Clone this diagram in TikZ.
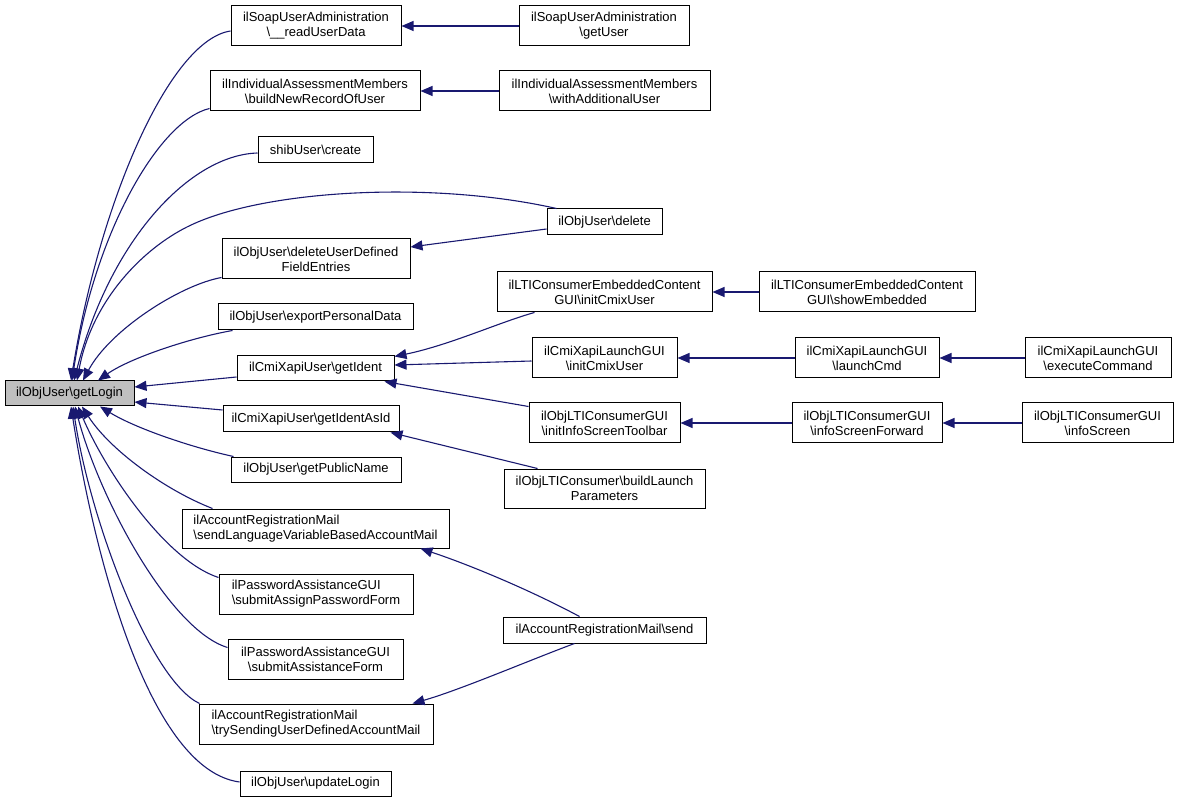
\documentclass[tikz,border=0pt]{standalone}
\usepackage{fontspec}
\setmainfont{Liberation Sans}
\usetikzlibrary{arrows.meta}
\newcommand{\BSL}{\textbackslash}
\definecolor{edgeblue}{HTML}{191970}
\begin{document}
\begin{tikzpicture}[x=1pt,y=-1pt,
  fn/.style={draw=black,line width=1pt,inner sep=0pt,align=center,
    font=\fontsize{13}{15}\selectfont},
  fnl/.style={fn,align=left},
  edge/.style={draw=edgeblue,line width=1.1pt,-{Triangle[length=12pt,width=10pt]}},
  sz/.style 2 args={minimum width=#1pt,minimum height=#2pt}]
\useasboundingbox (0,0) rectangle (1179,802);
% nodes
\node[fn,sz={129}{25},fill=black!25] (getLogin) at (69.5,393.5) {ilObjUser\BSL getLogin};
\node[fn,sz={170}{40}] (soapRead) at (316,26) {ilSoapUserAdministration\\\BSL\_\_readUserData};
\node[fn,sz={170}{40}] (soapGet) at (604,26) {ilSoapUserAdministration\\\BSL getUser};
\node[fn,sz={210}{40}] (indivBuild) at (315,91) {ilIndividualAssessmentMembers\\\BSL buildNewRecordOfUser};
\node[fn,sz={211}{40}] (indivWith) at (604.5,91) {ilIndividualAssessmentMembers\\\BSL withAdditionalUser};
\node[fn,sz={115}{26}] (shib) at (315.5,150) {shibUser\BSL create};
\node[fn,sz={115}{26}] (delete) at (604.5,222) {ilObjUser\BSL delete};
\node[fn,sz={188}{40}] (delUDF) at (316,259) {ilObjUser\BSL deleteUserDefined\\FieldEntries};
\node[fn,sz={195}{26}] (export) at (315.5,317) {ilObjUser\BSL exportPersonalData};
\node[fn,sz={157}{25}] (getIdent) at (315.5,368.5) {ilCmiXapiUser\BSL getIdent};
\node[fn,sz={176}{26}] (getIdentAsId) at (311,419) {ilCmiXapiUser\BSL getIdentAsId};
\node[fn,sz={170}{25}] (publicName) at (316,469.5) {ilObjUser\BSL getPublicName};
\node[fn,sz={215}{40}] (ltiInit) at (604.5,292) {ilLTIConsumerEmbeddedContent\\GUI\BSL initCmixUser};
\node[fn,sz={145}{40}] (cmiInit) at (604.5,358) {ilCmiXapiLaunchGUI\\\BSL initCmixUser};
\node[fn,sz={151}{40}] (infoToolbar) at (604.5,423) {ilObjLTIConsumerGUI\\\BSL initInfoScreenToolbar};
\node[fn,sz={201}{39}] (buildLaunch) at (604.5,488.5) {ilObjLTIConsumer\BSL buildLaunch\\Parameters};
\node[fn,sz={216}{40}] (showEmb) at (867,292) {ilLTIConsumerEmbeddedContent\\GUI\BSL showEmbedded};
\node[fn,sz={144}{40}] (launchCmd) at (867,358) {ilCmiXapiLaunchGUI\\\BSL launchCmd};
\node[fn,sz={146}{40}] (execCmd) at (1098,358) {ilCmiXapiLaunchGUI\\\BSL executeCommand};
\node[fn,sz={150}{40}] (infoFwd) at (867,423) {ilObjLTIConsumerGUI\\\BSL infoScreenForward};
\node[fn,sz={151}{40}] (infoScreen) at (1097.5,423) {ilObjLTIConsumerGUI\\\BSL infoScreen};
\node[fnl,sz={267}{39}] (sendLang) at (315.5,528.5) {ilAccountRegistrationMail\\\BSL sendLanguageVariableBasedAccountMail};
\node[fnl,sz={194}{40}] (submitAssign) at (316,594) {ilPasswordAssistanceGUI\\\BSL submitAssignPasswordForm};
\node[fn,sz={175}{40}] (submitAssist) at (315.5,659) {ilPasswordAssistanceGUI\\\BSL submitAssistanceForm};
\node[fnl,sz={234}{40}] (trySend) at (316,724) {ilAccountRegistrationMail\\\BSL trySendingUserDefinedAccountMail};
\node[fn,sz={151}{25}] (updateLogin) at (315.5,783.5) {ilObjUser\BSL updateLogin};
\node[fn,sz={203}{26}] (send) at (604.5,630) {ilAccountRegistrationMail\BSL send};
% edges into getLogin (top)
\draw[edge] ([yshift=-5pt]soapRead.west) .. controls (170,40) and (100,200) .. ([xshift=1.5pt]getLogin.north);
\draw[edge] ([yshift=3pt]indivBuild.south west) .. controls (160,120) and (95,230) .. ([xshift=2.5pt]getLogin.north);
\draw[edge] ([yshift=-3pt]shib.west) .. controls (190,155) and (110,240) .. ([xshift=4.5pt]getLogin.north);
\draw[edge] ([xshift=10pt]delete.north west) .. controls (430,180) and (260,190) .. (187,227)
   .. controls (143,249) and (92,300) .. ([xshift=7.5pt]getLogin.north);
\draw[edge] ([yshift=2pt]delUDF.south west) .. controls (180,285) and (110,330) .. ([xshift=13.5pt]getLogin.north);
\draw[edge] ([xshift=15pt]export.south west) .. controls (190,338) and (130,358) .. ([xshift=28.5pt]getLogin.north);
% edges into getLogin (right)
\draw[edge] ([yshift=-8.5pt]getIdent.west) -- ([yshift=6.5pt]getLogin.east);
\draw[edge] ([yshift=9pt]getIdentAsId.west) -- ([yshift=-8.5pt]getLogin.east);
% edges into getLogin (bottom)
\draw[edge] ([xshift=3pt]publicName.north west) .. controls (190,447) and (135,428) .. ([xshift=30.5pt]getLogin.south);
\draw[edge] ([xshift=31pt]sendLang.north west) .. controls (165,490) and (110,450) .. ([xshift=12.5pt]getLogin.south);
\draw[edge] ([yshift=-4pt]submitAssign.north west) .. controls (165,560) and (105,470) .. ([xshift=8.5pt]getLogin.south);
\draw[edge] ([yshift=-9pt]submitAssist.north west) .. controls (170,630) and (100,500) .. ([xshift=5.5pt]getLogin.south);
\draw[edge] ([xshift=1pt]trySend.north west) .. controls (150,680) and (90,520) .. ([xshift=3.5pt]getLogin.south);
\draw[edge] ([yshift=1.5pt]updateLogin.west) .. controls (150,770) and (95,560) .. ([xshift=1.5pt]getLogin.south);
% other edges
\draw[edge] (soapGet.west) -- (soapRead.east);
\draw[edge] (indivWith.west) -- (indivBuild.east);
\draw[edge] ([yshift=-7pt]delete.west) -- ([yshift=12pt]delUDF.east);
\draw[edge] ([xshift=38pt]ltiInit.south west) .. controls (500,322) and (450,345) .. ([yshift=-1pt]getIdent.north east);
\draw[edge] ([yshift=-3pt]cmiInit.west) -- ([yshift=3.5pt]getIdent.east);
\draw[edge] ([yshift=-4pt]infoToolbar.north west) -- ([xshift=-10pt]getIdent.south east);
\draw[edge] ([xshift=34pt]buildLaunch.north west) -- ([xshift=-9pt]getIdentAsId.south east);
\draw[edge] (showEmb.west) -- (ltiInit.east);
\draw[edge] (launchCmd.west) -- (cmiInit.east);
\draw[edge] (execCmd.west) -- (launchCmd.east);
\draw[edge] (infoFwd.west) -- (infoToolbar.east);
\draw[edge] (infoScreen.west) -- (infoFwd.east);
\draw[edge] ([xshift=77pt]send.north west) .. controls (530,590) and (470,565) .. ([xshift=-29pt]sendLang.south east);
\draw[edge] ([xshift=72pt]send.south west) .. controls (530,660) and (460,690) .. ([xshift=-21pt]trySend.north east);
\end{tikzpicture}
\end{document}
